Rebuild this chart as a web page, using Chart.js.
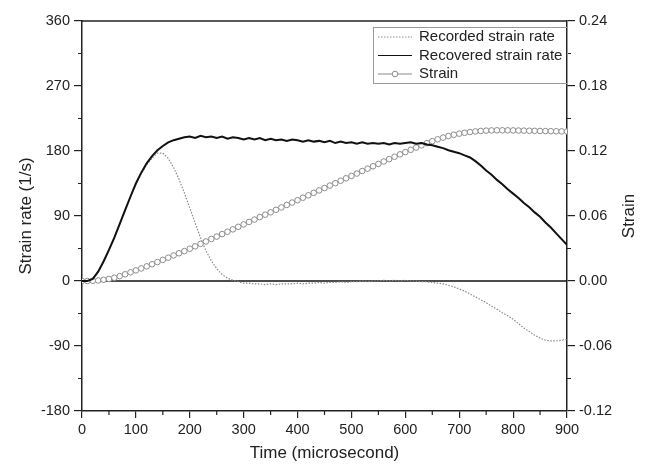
<!DOCTYPE html>
<html>
<head>
<meta charset="utf-8">
<script src="https://cdn.jsdelivr.net/npm/chart.js@4"></script>
<style>
  html, body { margin: 0; padding: 0; background: #fff; }
  #wrap { width: 646px; height: 465px; }
</style>
</head>
<body>
<div id="wrap"><canvas id="c" width="646" height="465"></canvas></div>
<script>
// time in microseconds, one sample every 10 us
const TIME = [0, 10, 20, 30, 40, 50, 60, 70, 80, 90,
  100, 110, 120, 130, 140, 150, 160, 170, 180, 190,
  200, 210, 220, 230, 240, 250, 260, 270, 280, 290,
  300, 310, 320, 330, 340, 350, 360, 370, 380, 390,
  400, 410, 420, 430, 440, 450, 460, 470, 480, 490,
  500, 510, 520, 530, 540, 550, 560, 570, 580, 590,
  600, 610, 620, 630, 640, 650, 660, 670, 680, 690,
  700, 710, 720, 730, 740, 750, 760, 770, 780, 790,
  800, 810, 820, 830, 840, 850, 860, 870, 880, 890, 900];

// strain rate (1/s)
const RECORDED = [0, 0, 3, 13, 27, 43, 60, 79, 98, 117,
  134, 149, 161, 170, 177, 177, 170, 157, 141, 122,
  101, 80, 60, 42, 28, 17, 9, 4, 1, -1,
  -3, -3, -4, -4, -5, -4, -5, -4, -4, -4,
  -3, -4, -3, -3, -2, -3, -2, -2, -1, -2,
  -1, -1, 0, -1, 0, 0, 1, 0, 1, 0,
  1, 0, 0, -1, -1, -2, -3, -4, -6, -8,
  -11, -14, -18, -22, -26, -30, -35, -39, -44, -48,
  -53, -59, -65, -70, -75, -79, -82, -83, -83, -82, -81];

const RECOVERED = [0, 0, 3, 13, 27, 43, 60, 79, 98, 117,
  135, 150, 163, 173, 181, 187, 192, 195, 197, 199,
  200, 198, 201, 199, 200, 198, 200, 197, 199, 198,
  196, 198, 196, 198, 195, 197, 195, 196, 194, 196,
  195, 193, 195, 193, 194, 192, 194, 191, 193, 191,
  192, 190, 192, 190, 191, 190, 191, 189, 191, 190,
  191, 192, 190, 191, 189, 188, 186, 184, 181, 179,
  177, 174, 171, 166, 160, 153, 147, 140, 134, 127,
  121, 115, 108, 102, 95, 89, 81, 74, 66, 58, 50];

// strain (right axis)
const STRAIN = [0, 0, 0.0002, 0.0005, 0.0011, 0.0019, 0.0030, 0.0045, 0.0062, 0.0080,
  0.0098, 0.0116, 0.0135, 0.0155, 0.0175, 0.0195, 0.0215, 0.0236, 0.0256, 0.0276,
  0.0298, 0.0320, 0.0343, 0.0365, 0.0388, 0.0410, 0.0433, 0.0455, 0.0477, 0.0500,
  0.0522, 0.0545, 0.0567, 0.0590, 0.0612, 0.0634, 0.0657, 0.0679, 0.0702, 0.0724,
  0.0746, 0.0769, 0.0791, 0.0814, 0.0836, 0.0858, 0.0881, 0.0903, 0.0926, 0.0948,
  0.0970, 0.0992, 0.1015, 0.1037, 0.1059, 0.1081, 0.1103, 0.1125, 0.1147, 0.1169,
  0.1190, 0.1211, 0.1232, 0.1252, 0.1272, 0.1291, 0.1308, 0.1324, 0.1338, 0.1350,
  0.1360, 0.1368, 0.1375, 0.1381, 0.1385, 0.1388, 0.1390, 0.1391, 0.1391, 0.1391,
  0.1390, 0.1389, 0.1388, 0.1387, 0.1386, 0.1385, 0.1384, 0.1383, 0.1382, 0.1381, 0.1380];

const LEGEND_LABELS = ['Recorded strain rate', 'Recovered strain rate', 'Strain'];

const FONT = 'Liberation Sans, Arial, sans-serif';
const INK = '#222';

const pts = (ys) => TIME.map((t, i) => ({ x: t, y: ys[i] }));

// frame, zero line, minor ticks, right title and the in-plot legend
const decorations = {
    id: 'decorations',
    beforeDatasetsDraw(chart) {
        const { ctx, chartArea: a, scales } = chart;
        const y0 = scales.y.getPixelForValue(0);
        ctx.save();
        ctx.strokeStyle = '#111';
        ctx.lineWidth = 1.3;
        ctx.beginPath();
        ctx.moveTo(a.left, y0);
        ctx.lineTo(a.right, y0);
        ctx.stroke();
        ctx.restore();
    },
    afterDraw(chart) {
        const { ctx, chartArea: a, scales } = chart;
        ctx.save();
        ctx.strokeStyle = INK;
        ctx.lineWidth = 1.5;
        ctx.beginPath();
        ctx.moveTo(a.left, a.top);
        ctx.lineTo(a.right, a.top);
        ctx.stroke();

        // minor ticks
        ctx.lineWidth = 1.2;
        ctx.beginPath();
        for (let v = 50; v < 900; v += 100) {
            const px = scales.x.getPixelForValue(v);
            ctx.moveTo(px, a.bottom);
            ctx.lineTo(px, a.bottom + 4);
        }
        for (let v = -135; v < 360; v += 90) {
            const py = scales.y.getPixelForValue(v);
            ctx.moveTo(a.left - 4, py);
            ctx.lineTo(a.left, py);
        }
        for (let k = 0; k < 6; k++) {
            const py = scales.y2.getPixelForValue(-0.09 + k * 0.06);
            ctx.moveTo(a.right, py);
            ctx.lineTo(a.right + 4, py);
        }
        ctx.stroke();

        // right axis title, reading upwards like the left one
        ctx.fillStyle = INK;
        ctx.font = '17px ' + FONT;
        ctx.textAlign = 'center';
        ctx.textBaseline = 'middle';
        ctx.save();
        ctx.translate(629, (a.top + a.bottom) / 2);
        ctx.rotate(-Math.PI / 2);
        ctx.fillText('Strain', 0, 0);
        ctx.restore();

        // legend box
        const bx = 373, by = 27, bw = a.right - bx, bh = 56;
        ctx.strokeStyle = '#999';
        ctx.lineWidth = 1;
        ctx.strokeRect(bx + 0.5, by + 0.5, bw, bh);
        const rows = [37, 55.5, 74];
        const x1 = 378, x2 = 412;
        ctx.lineWidth = 1.2;
        ctx.strokeStyle = '#8a8a8a';
        ctx.setLineDash([1.5, 1.5]);
        ctx.beginPath(); ctx.moveTo(x1, rows[0]); ctx.lineTo(x2, rows[0]); ctx.stroke();
        ctx.setLineDash([]);
        ctx.strokeStyle = '#111';
        ctx.beginPath(); ctx.moveTo(x1, rows[1]); ctx.lineTo(x2, rows[1]); ctx.stroke();
        ctx.strokeStyle = '#8a8a8a';
        ctx.lineWidth = 1;
        ctx.beginPath(); ctx.moveTo(x1, rows[2]); ctx.lineTo(x2, rows[2]); ctx.stroke();
        ctx.fillStyle = '#fff';
        ctx.beginPath(); ctx.arc((x1 + x2) / 2, rows[2], 2.8, 0, Math.PI * 2); ctx.fill(); ctx.stroke();

        ctx.fillStyle = INK;
        ctx.font = '15px ' + FONT;
        ctx.textAlign = 'left';
        LEGEND_LABELS.forEach((label, i) => ctx.fillText(label, 419, rows[i]));
        ctx.restore();
    }
};

Chart.defaults.font.family = FONT;
Chart.defaults.color = INK;

new Chart(document.getElementById('c'), {
    type: 'line',
    data: {
        datasets: [
            {
                label: LEGEND_LABELS[1],
                data: pts(RECOVERED),
                yAxisID: 'y',
                borderColor: '#111',
                borderWidth: 2,
                pointRadius: 0,
                order: 0,
            },
            {
                label: LEGEND_LABELS[2],
                data: pts(STRAIN),
                yAxisID: 'y2',
                borderColor: '#999',
                borderWidth: 1,
                pointRadius: 2.8,
                pointBackgroundColor: '#fff',
                pointBorderColor: '#8c8c8c',
                pointBorderWidth: 1,
                order: 1,
            },
            {
                label: LEGEND_LABELS[0],
                data: pts(RECORDED),
                yAxisID: 'y',
                borderColor: '#8a8a8a',
                borderWidth: 1.2,
                borderDash: [1.5, 1.5],
                pointRadius: 0,
                order: 2,
            },
        ],
    },
    options: {
        responsive: false,
        animation: false,
        devicePixelRatio: 1,
        layout: { padding: { top: 21, left: 0, right: 0, bottom: 0 } },
        elements: { line: { tension: 0 } },
        plugins: { legend: { display: false }, tooltip: { enabled: false } },
        scales: {
            x: {
                type: 'linear',
                min: 0,
                max: 900,
                ticks: { stepSize: 100, font: { size: 14.5 }, color: INK, padding: 3, maxRotation: 0 },
                grid: { drawOnChartArea: false, tickLength: 7, color: INK, lineWidth: 1.2 },
                border: { color: INK, width: 1.5 },
                title: { display: true, text: 'Time (microsecond)', font: { size: 17 }, color: INK, padding: { top: 0, bottom: 1 } },
                afterFit: (s) => { s.height = 54; },
            },
            y: {
                position: 'left',
                min: -180,
                max: 360,
                ticks: { stepSize: 90, font: { size: 14.5 }, color: INK, padding: 4 },
                grid: { drawOnChartArea: false, tickLength: 8, color: INK, lineWidth: 1.2 },
                border: { color: INK, width: 1.5 },
                title: { display: true, text: 'Strain rate (1/s)', font: { size: 17 }, color: INK, padding: { top: 16 } },
                afterFit: (s) => { s.width = 82; },
            },
            y2: {
                position: 'right',
                min: -0.12,
                max: 0.24,
                ticks: {
                    stepSize: 0.06,
                    font: { size: 14.5 },
                    color: INK,
                    padding: 4,
                    callback: (v) => (Math.abs(v) < 1e-9 ? 0 : v).toFixed(2),
                },
                grid: { drawOnChartArea: false, tickLength: 8, color: INK, lineWidth: 1.2 },
                border: { color: INK, width: 1.5 },
                afterFit: (s) => { s.width = 79; },
            },
        },
    },
    plugins: [decorations],
});
</script>
</body>
</html>
